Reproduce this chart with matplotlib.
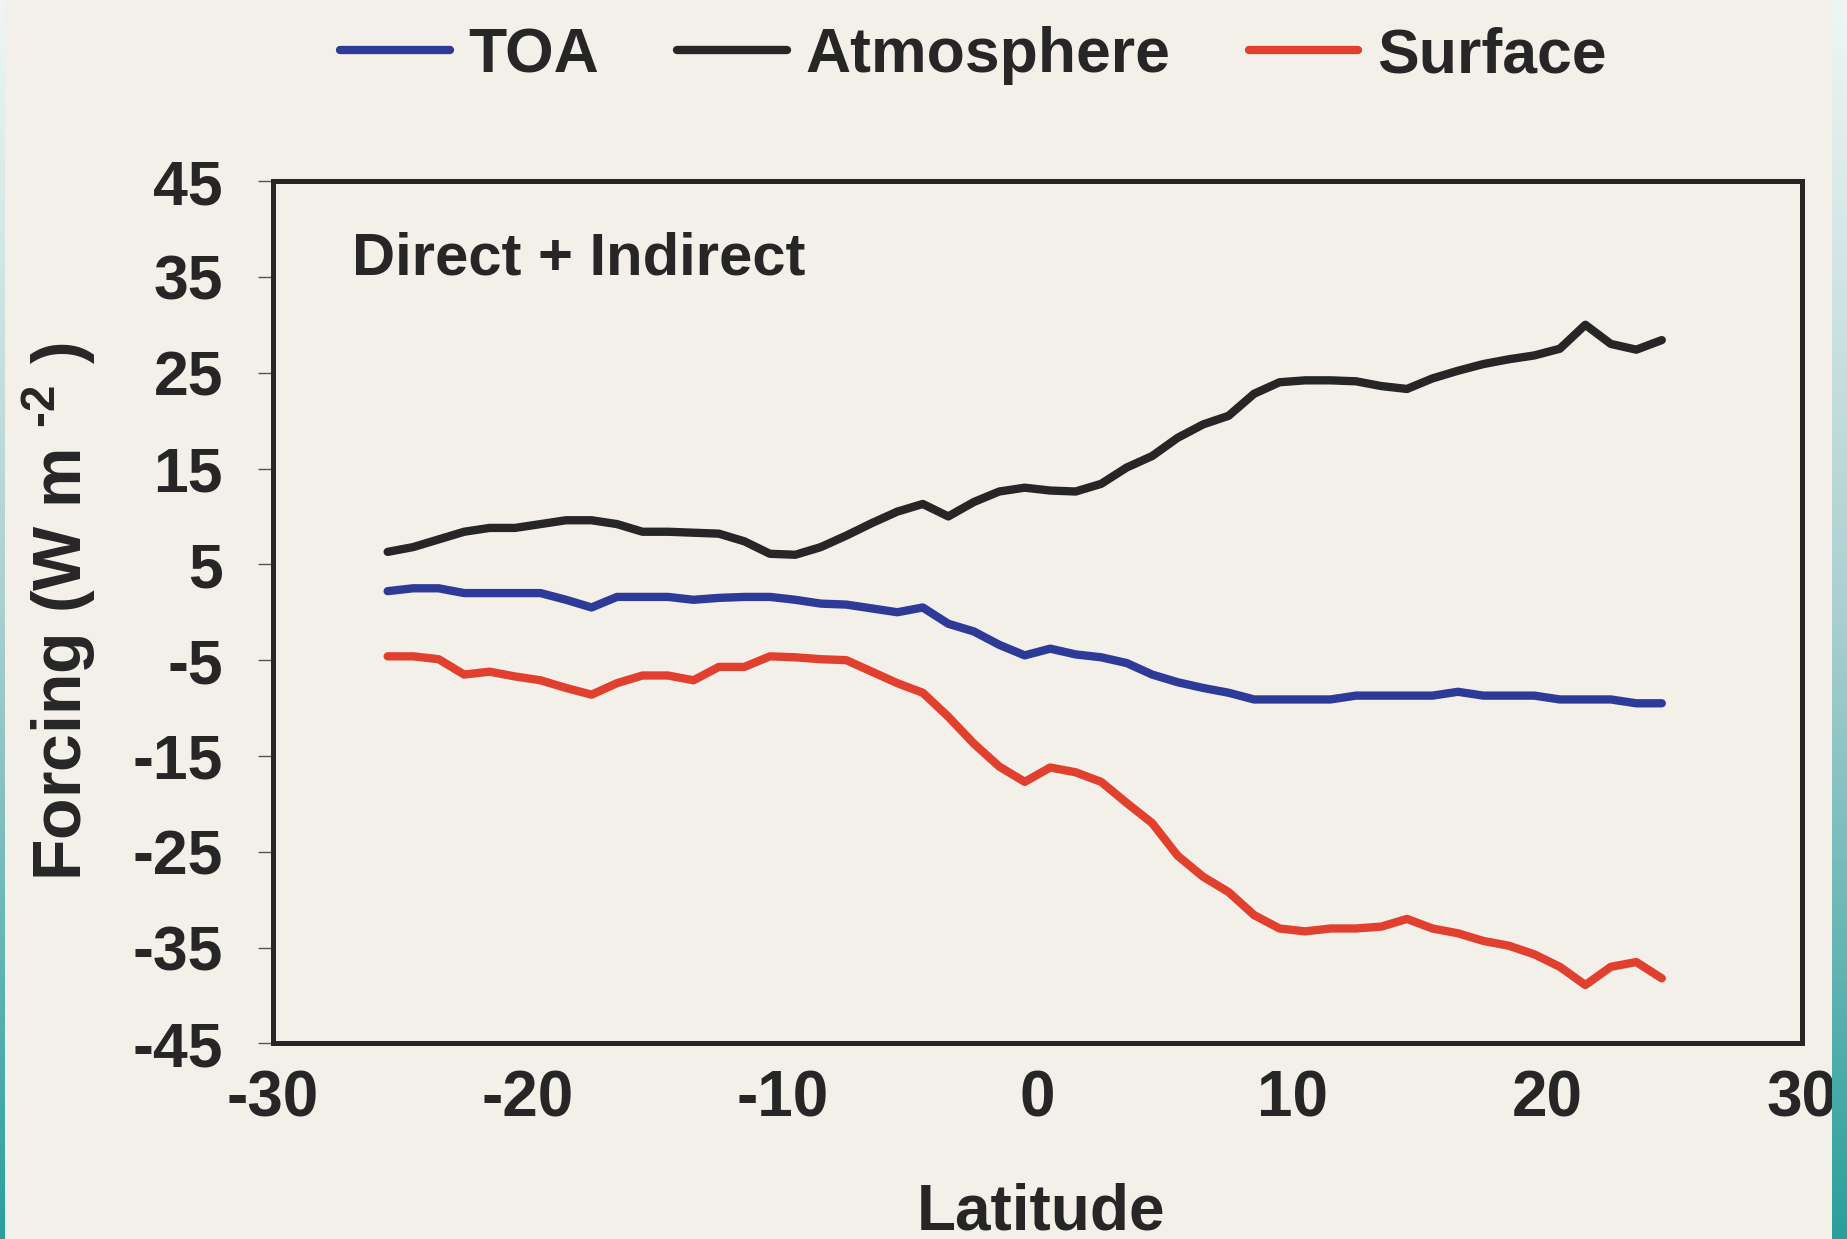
import numpy as np
import matplotlib
matplotlib.use("Agg")
import matplotlib.pyplot as plt
from matplotlib.colors import LinearSegmentedColormap

plt.rcParams['font.family'] = ['Liberation Sans', 'DejaVu Sans']
plt.rcParams['font.weight'] = 'bold'
plt.rcParams['mathtext.fontset'] = 'custom'
plt.rcParams['mathtext.rm'] = 'Liberation Sans:bold'
plt.rcParams['mathtext.bf'] = 'Liberation Sans:bold'

# zonal mean forcing, 1 degree bands
latitude = [-25.5, -24.5, -23.5, -22.5, -21.5, -20.5, -19.5, -18.5, -17.5, -16.5,
            -15.5, -14.5, -13.5, -12.5, -11.5, -10.5, -9.5, -8.5, -7.5, -6.5,
            -5.5, -4.5, -3.5, -2.5, -1.5, -0.5, 0.5, 1.5, 2.5, 3.5,
            4.5, 5.5, 6.5, 7.5, 8.5, 9.5, 10.5, 11.5, 12.5, 13.5,
            14.5, 15.5, 16.5, 17.5, 18.5, 19.5, 20.5, 21.5, 22.5, 23.5, 24.5]

toa = [2.2, 2.5, 2.5, 2.0, 2.0, 2.0, 2.0, 1.3, 0.5, 1.6,
       1.6, 1.6, 1.3, 1.5, 1.6, 1.6, 1.3, 0.9, 0.8, 0.4,
       0.0, 0.5, -1.2, -2.0, -3.4, -4.5, -3.8, -4.4, -4.7, -5.3,
       -6.5, -7.3, -7.9, -8.4, -9.1, -9.1, -9.1, -9.1, -8.7, -8.7,
       -8.7, -8.7, -8.3, -8.7, -8.7, -8.7, -9.1, -9.1, -9.1, -9.5, -9.5]

atmosphere = [6.3, 6.8, 7.6, 8.4, 8.8, 8.8, 9.2, 9.6, 9.6, 9.2,
              8.4, 8.4, 8.3, 8.2, 7.4, 6.1, 6.0, 6.8, 8.0, 9.3,
              10.5, 11.3, 10.0, 11.5, 12.6, 13.0, 12.7, 12.6, 13.4, 15.1,
              16.3, 18.2, 19.6, 20.5, 22.8, 24.0, 24.2, 24.2, 24.1, 23.6,
              23.3, 24.4, 25.2, 25.9, 26.4, 26.8, 27.5, 30.0, 28.0, 27.4, 28.4]

surface = [-4.6, -4.6, -4.9, -6.5, -6.2, -6.7, -7.1, -7.9, -8.6, -7.4,
           -6.6, -6.6, -7.1, -5.7, -5.7, -4.6, -4.7, -4.9, -5.0, -6.2,
           -7.4, -8.4, -10.9, -13.7, -16.1, -17.7, -16.2, -16.7, -17.7, -19.9,
           -22.0, -25.4, -27.6, -29.2, -31.6, -33.0, -33.3, -33.0, -33.0, -32.8,
           -32.0, -33.0, -33.5, -34.3, -34.8, -35.7, -37.0, -38.9, -37.0, -36.5, -38.2]

xticks = [-30, -20, -10, 0, 10, 20, 30]
yticks = [45, 35, 25, 15, 5, -5, -15, -25, -35, -45]

paper = '#f3f0ea'
ink = '#262626'

fig = plt.figure(figsize=(18.47, 12.39), dpi=100, facecolor=paper)
ax = fig.add_axes([0.1478, 0.1578, 0.8278, 0.6961], facecolor=paper)

line_kw = dict(lw=6, solid_capstyle='round', solid_joinstyle='round')
ax.plot(latitude, toa, color='#2e3a98', label='TOA', **line_kw)
ax.plot(latitude, atmosphere, color='#262626', label='Atmosphere', **line_kw)
ax.plot(latitude, surface, color='#e2402f', label='Surface', **line_kw)

ax.set_xlim(-30, 30)
ax.set_ylim(-45, 45)
ax.set_xticks(xticks)
ax.set_yticks(yticks)
ax.set_xticklabels([str(t) for t in xticks])
ax.set_yticklabels([str(t) for t in yticks])
ax.tick_params(axis='x', length=0, pad=19, labelsize=46, labelcolor=ink)
ax.tick_params(axis='y', length=11, width=1.0, pad=25, labelsize=45,
               labelcolor=ink, color='#555555')

for s in ax.spines.values():
    s.set_linewidth(3.6)
    s.set_color(ink)

ax.text(0.052, 0.892, 'Direct + Indirect', transform=ax.transAxes,
        fontsize=43, fontweight='bold', color=ink, va='baseline', ha='left')

fig.text(0.032, 0.506, 'Forcing (W m $^{\u2010\\mathbf{2}}$ )', rotation=90,
         fontsize=49, color=ink, ha='center', va='center')
fig.text(0.5638, 0.008, 'Latitude', fontsize=46, color=ink,
         ha='center', va='baseline')

fig.legend(loc='center', bbox_to_anchor=(0.527, 0.955), ncol=3, frameon=False,
           fontsize=45, handlelength=1.75, handletextpad=0.3,
           columnspacing=1.25, labelcolor=ink)

# teal edges of the scanned page
teal = LinearSegmentedColormap.from_list('teal', ['#eef6f4', '#a9cfcf', '#2a9f9c'])
grad = np.linspace(0, 1, 256).reshape(-1, 1)
for rect in ([1832 / 1847, 0, 15 / 1847, 1], [0, 0, 5 / 1847, 1]):
    edge = fig.add_axes(rect, zorder=10)
    edge.imshow(grad, aspect='auto', cmap=teal, extent=[0, 1, 1, 0])
    edge.set_axis_off()

fig.savefig('out.png', dpi=100, facecolor=paper)
